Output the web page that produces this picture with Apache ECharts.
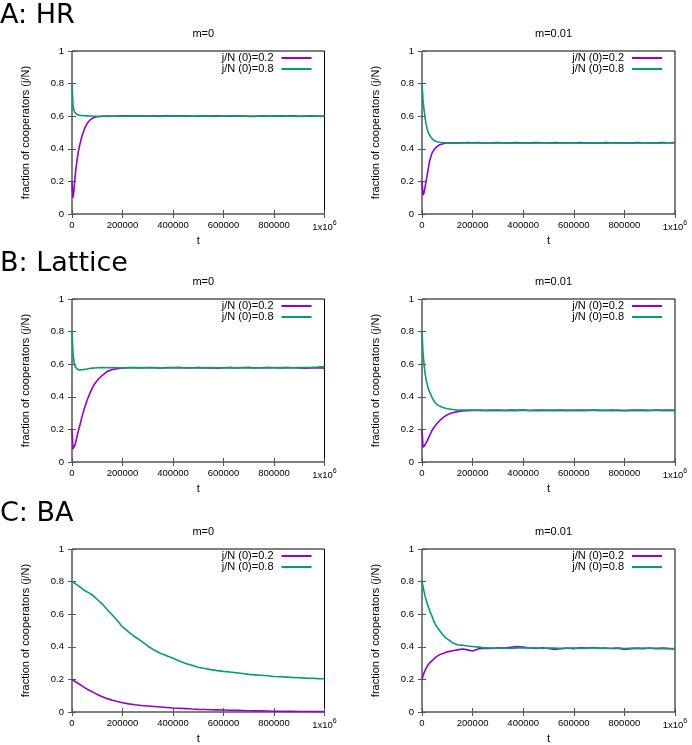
<!DOCTYPE html>
<html><head><meta charset="utf-8">
<script src="https://cdn.jsdelivr.net/npm/echarts@6/dist/echarts.min.js"></script>
<style>html,body{margin:0;padding:0;background:#fff}#c{width:692px;height:745px}</style>
</head><body><div id="c"></div>
<script>
const tValues = [0,4000,8000,12000,16000,20000,25000,30000,40000,50000,60000,70000,80000,90000,100000,120000,140000,160000,180000,200000,
225000,250000,275000,300000,325000,350000,375000,400000,425000,450000,475000,500000,525000,550000,575000,600000,625000,650000,675000,700000,725000,750000,775000,800000,825000,850000,875000,900000,925000,950000,975000,1000000];

const seriesNames = ['j/N (0)=0.2', 'j/N (0)=0.8'];
const panelTitles = ['m=0', 'm=0.01'];
const sectionLabels = ['A: HR', 'B: Lattice', 'C: BA'];
const yTicks = [0, 0.2, 0.4, 0.6, 0.8, 1];
const xTicks = [0, 200000, 400000, 600000, 800000, 1000000];

// HR
const hrP0 = [0.200,0.100,0.150,0.225,0.285,0.330,0.380,0.420,0.480,0.525,0.555,0.575,0.587,0.593,0.597,0.600,0.601,0.600,0.601,0.602,
0.603,0.601,0.602,0.600,0.603,0.601,0.602,0.600,0.602,0.603,0.601,0.600,0.602,0.601,0.603,0.601,0.600,0.602,0.601,0.599,0.600,0.602,0.601,0.600,0.602,0.601,0.603,0.600,0.601,0.602,0.600,0.599];
const hrG0 = [0.800,0.665,0.635,0.622,0.614,0.610,0.607,0.605,0.604,0.603,0.602,0.601,0.601,0.600,0.600,0.600,0.599,0.600,0.601,0.600,
0.601,0.600,0.602,0.601,0.600,0.599,0.601,0.602,0.600,0.601,0.600,0.602,0.601,0.599,0.600,0.601,0.602,0.600,0.601,0.600,0.599,0.601,0.600,0.602,0.600,0.601,0.600,0.599,0.601,0.600,0.601,0.600];
const hrP1 = [0.200,0.115,0.130,0.165,0.200,0.235,0.280,0.325,0.375,0.400,0.415,0.425,0.430,0.434,0.436,0.437,0.436,0.437,0.438,0.437,
0.438,0.436,0.437,0.439,0.436,0.437,0.438,0.436,0.437,0.439,0.437,0.436,0.438,0.437,0.436,0.437,0.438,0.436,0.437,0.436,0.438,0.437,0.436,0.437,0.436,0.438,0.437,0.436,0.437,0.438,0.437,0.438];
const hrG1 = [0.800,0.700,0.640,0.592,0.553,0.525,0.499,0.483,0.462,0.449,0.443,0.440,0.438,0.437,0.436,0.436,0.435,0.436,0.437,0.436,
0.437,0.435,0.436,0.437,0.436,0.435,0.436,0.437,0.435,0.436,0.437,0.436,0.435,0.436,0.437,0.436,0.435,0.436,0.437,0.436,0.435,0.436,0.437,0.436,0.435,0.436,0.437,0.436,0.435,0.436,0.437,0.436];

// Lattice
const laP0 = [0.200,0.080,0.085,0.105,0.130,0.158,0.190,0.218,0.280,0.333,0.380,0.418,0.453,0.480,0.500,0.532,0.556,0.567,0.573,0.577,
0.578,0.579,0.577,0.580,0.578,0.577,0.579,0.578,0.580,0.577,0.578,0.579,0.577,0.578,0.576,0.578,0.579,0.577,0.578,0.579,0.577,0.578,0.580,0.578,0.577,0.579,0.578,0.577,0.576,0.577,0.578,0.576];
const laG0 = [0.800,0.670,0.612,0.588,0.577,0.571,0.567,0.565,0.566,0.568,0.571,0.574,0.576,0.577,0.578,0.579,0.578,0.579,0.578,0.577,
0.579,0.578,0.580,0.578,0.579,0.577,0.578,0.580,0.579,0.578,0.577,0.579,0.578,0.580,0.578,0.577,0.579,0.578,0.580,0.579,0.578,0.577,0.579,0.578,0.580,0.579,0.578,0.579,0.580,0.581,0.583,0.586];
const laP1 = [0.200,0.090,0.092,0.105,0.117,0.128,0.145,0.162,0.195,0.218,0.238,0.255,0.268,0.280,0.290,0.302,0.309,0.313,0.315,0.316,
0.317,0.316,0.318,0.317,0.316,0.318,0.317,0.319,0.316,0.317,0.318,0.316,0.317,0.318,0.317,0.316,0.318,0.317,0.319,0.317,0.316,0.318,0.317,0.316,0.317,0.318,0.317,0.316,0.319,0.317,0.318,0.317];
const laG1 = [0.800,0.670,0.600,0.545,0.510,0.480,0.449,0.430,0.395,0.368,0.352,0.343,0.336,0.331,0.327,0.322,0.319,0.318,0.318,0.319,
0.318,0.317,0.316,0.318,0.317,0.316,0.317,0.318,0.316,0.317,0.316,0.318,0.317,0.316,0.317,0.318,0.316,0.317,0.316,0.318,0.317,0.316,0.317,0.315,0.317,0.316,0.318,0.317,0.316,0.317,0.316,0.317];

// BA
const baP0 = [0.200,0.196,0.192,0.188,0.184,0.180,0.175,0.170,0.160,0.150,0.140,0.132,0.124,0.116,0.108,0.094,0.082,0.072,0.064,0.057,
0.050,0.044,0.040,0.037,0.034,0.031,0.028,0.025,0.023,0.021,0.018,0.016,0.015,0.014,0.013,0.012,0.011,0.010,0.009,0.008,0.007,0.007,0.006,0.005,0.005,0.004,0.004,0.003,0.003,0.003,0.002,0.002];
const baG0 = [0.800,0.797,0.793,0.788,0.784,0.780,0.775,0.768,0.757,0.745,0.737,0.728,0.718,0.705,0.690,0.662,0.627,0.595,0.560,0.522,
0.490,0.460,0.435,0.405,0.380,0.360,0.345,0.330,0.313,0.298,0.287,0.275,0.267,0.260,0.254,0.249,0.245,0.241,0.236,0.231,0.228,0.225,0.222,0.218,0.216,0.214,0.212,0.210,0.208,0.207,0.205,0.204];
const baP1 = [0.200,0.222,0.240,0.255,0.268,0.280,0.292,0.300,0.315,0.330,0.343,0.352,0.358,0.364,0.369,0.376,0.381,0.386,0.381,0.374,
0.388,0.392,0.390,0.394,0.392,0.397,0.401,0.398,0.393,0.390,0.394,0.390,0.384,0.390,0.393,0.389,0.394,0.392,0.396,0.391,0.393,0.390,0.392,0.383,0.389,0.392,0.388,0.393,0.390,0.392,0.389,0.387];
const baG1 = [0.800,0.770,0.740,0.712,0.688,0.668,0.645,0.622,0.585,0.545,0.520,0.498,0.478,0.460,0.448,0.425,0.412,0.410,0.405,0.402,
0.398,0.393,0.392,0.391,0.393,0.390,0.393,0.395,0.392,0.394,0.390,0.393,0.392,0.389,0.391,0.393,0.390,0.392,0.394,0.392,0.390,0.391,0.393,0.389,0.391,0.390,0.392,0.391,0.389,0.391,0.390,0.389];

const panels = [
  [hrP0, hrG0], [hrP1, hrG1],
  [laP0, laG0], [laP1, laG1],
  [baP0, baG0], [baP1, baG1]
];

const colors = ['#9400D3', '#009E73'];
const FONT = 'Liberation Sans, Arial, sans-serif';
const FS = 9.5;   // tick labels
const FT = 11;    // titles, legend, axis names
const rowTops = [51, 299, 549];
const colLefts = [72, 422];
const colWidths = [252.5, 253];
const plotH = 163;

const grid = [], xAxis = [], yAxis = [], series = [], legend = [], title = [], graphic = [];
panels.forEach((pair, p) => {
  const row = Math.floor(p / 2), col = p % 2;
  const left = colLefts[col], top = rowTops[row], w = colWidths[col];
  grid.push({left: left, top: top, width: w, height: plotH, show: true, borderColor: '#000', borderWidth: 1, backgroundColor: 'transparent'});
  const tickStyle = {show: true, inside: true, length: 4, lineStyle: {color: '#555', width: 1}};
  const xBase = {gridIndex: p, type: 'value', min: xTicks[0], max: xTicks[xTicks.length-1], interval: 200000,
    axisLine: {show: false}, splitLine: {show: false}, axisTick: tickStyle};
  xAxis.push(Object.assign({}, xBase, {position: 'bottom', name: 't', nameLocation: 'middle', nameGap: 21,
    nameTextStyle: {fontFamily: FONT, fontSize: FT, color: '#000'},
    axisLabel: {show: true, margin: 6, fontFamily: FONT, fontSize: FS, color: '#000',
      formatter: v => v === 1000000 ? '{a|1x10}{b|6}' : String(v),
      rich: {a: {fontFamily: FONT, fontSize: FS, color: '#000'}, b: {fontFamily: FONT, fontSize: 7, color: '#000', padding: [0,0,7,0]}}}}));
  xAxis.push(Object.assign({}, xBase, {position: 'top', axisLabel: {show: false}}));
  const yBase = {gridIndex: p, type: 'value', min: 0, max: 1, interval: 0.2,
    axisLine: {show: false}, splitLine: {show: false}, axisTick: tickStyle};
  yAxis.push(Object.assign({}, yBase, {position: 'left', name: 'fraction of cooperators (j/N)', nameLocation: 'middle', nameGap: 41,
    nameTextStyle: {fontFamily: FONT, fontSize: FT, color: '#000'},
    axisLabel: {show: true, margin: 8, fontFamily: FONT, fontSize: FS, color: '#000'}}));
  yAxis.push(Object.assign({}, yBase, {position: 'right', axisLabel: {show: false}}));
  pair.forEach((arr, k) => {
    series.push({type: 'line', name: seriesNames[k], xAxisIndex: 2*p, yAxisIndex: 2*p, symbol: 'none',
      data: tValues.map((t, i) => [t, arr[i]]), lineStyle: {color: colors[k], width: 1.6}, itemStyle: {color: colors[k]},
      z: k === 0 ? 2 : 3, animation: false});
  });
  legend.push({data: seriesNames.map(n => ({name: n, icon: 'rect'})), orient: 'vertical', align: 'right', right: 692 - (left + w - 13), top: top + 1.5,
    itemWidth: 30, itemHeight: 2, itemGap: 0, padding: 0, selectedMode: false,
    textStyle: {fontFamily: FONT, fontSize: FT, color: '#000', padding: [0, 3, 0, 0], lineHeight: 11}});
  title.push({text: panelTitles[col], left: left + w / 2, top: top - 28, textAlign: 'center',
    textStyle: {fontFamily: FONT, fontSize: FT, fontWeight: 'normal', color: '#000'}});
});
sectionLabels.forEach((s, r) => {
  graphic.push({type: 'text', left: 0, top: rowTops[r] - 49, style: {text: s, font: '27px "DejaVu Sans"', fill: '#000'}});
});

const chart = echarts.init(document.getElementById('c'), null, {renderer: 'canvas'});
chart.setOption({animation: false, backgroundColor: '#fff', grid, xAxis, yAxis, series, legend, title, graphic});
</script></body></html>
